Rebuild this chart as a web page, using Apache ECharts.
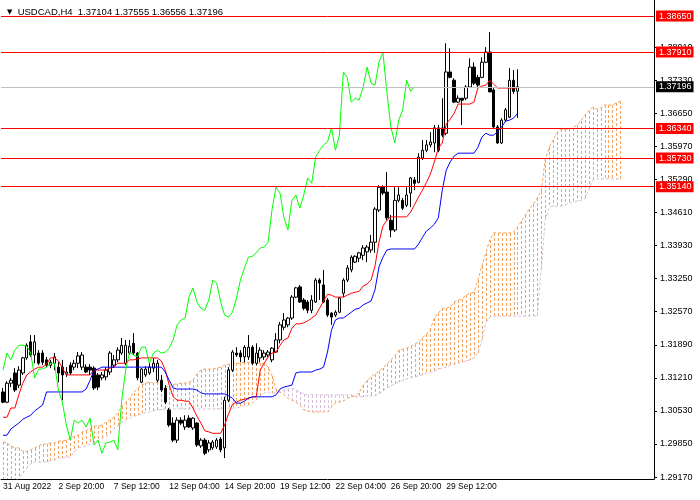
<!DOCTYPE html>
<html>
<head>
<meta charset="utf-8">
<script src="https://cdn.jsdelivr.net/npm/echarts@6/dist/echarts.min.js"></script>
<style>
  html, body { margin: 0; padding: 0; background: #fff; }
  #chart { width: 700px; height: 500px; }
</style>
</head>
<body>
<div id="chart"></div>
<script>
// bottom axis: one label every 14 bars
const xTickLabels = ['31 Aug 2022', '2 Sep 20:00', '7 Sep 12:00', '12 Sep 04:00', '14 Sep 20:00',
  '19 Sep 12:00', '22 Sep 04:00', '26 Sep 20:00', '29 Sep 12:00'];
const labelStep = 14;
const barSlots = 165;

// right axis ticks
const yTicks = [1.2917, 1.2985, 1.3053, 1.3121, 1.3189, 1.3257, 1.3325, 1.3393,
  1.3461, 1.3529, 1.3597, 1.3665, 1.3733, 1.3801];

// horizontal levels and current price
const levels = [1.3865, 1.3791, 1.3634, 1.3573, 1.3514];
const lastPrice = 1.37196;

// H4 candles
const opens = [
  1.3092,1.3071,1.3110,1.3131,1.3106,1.3131,1.3162,1.3195,1.3168,1.3172,
  1.3172,1.3158,1.3147,1.3151,1.3143,1.3143,1.3129,1.3147,1.3143,1.3151,
  1.3143,1.3143,1.3143,1.3141,1.3127,1.3121,1.3123,1.3133,1.3147,1.3158,
  1.3172,1.3151,1.3172,1.3192,1.3172,1.3112,1.3127,1.3131,1.3141,1.3116,
  1.3116,1.3100,1.3055,1.3028,1.2993,1.3034,1.3020,1.3038,1.3018,1.3028,
  1.2981,1.2993,1.2973,1.2977,1.2979,1.2995,1.2977,1.3075,1.3137,1.3172,
  1.3172,1.3164,1.3164,1.3184,1.3151,1.3162,1.3164,1.3168,1.3158,1.3174,
  1.3199,1.3225,1.3230,1.3244,1.3287,1.3308,1.3281,1.3277,1.3260,1.3277,
  1.3322,1.3312,1.3281,1.3254,1.3250,1.3256,1.3295,1.3322,1.3343,1.3359,
  1.3367,1.3373,1.3380,1.3384,1.3400,1.3466,1.3513,1.3503,1.3445,1.3425,
  1.3486,1.3486,1.3476,1.3501,1.3528,1.3523,1.3573,1.3589,1.3600,1.3604,
  1.3635,1.3635,1.3624,1.3750,1.3733,1.3688,1.3696,1.3696,1.3719,1.3760,
  1.3739,1.3739,1.3770,1.3791,1.3713,1.3637,1.3604,1.3651,1.3657,1.3733,
  1.37104];
const closes = [
  1.3071,1.3110,1.3116,1.3096,1.3137,1.3162,1.3188,1.3168,1.3195,1.3151,
  1.3153,1.3147,1.3153,1.3164,1.3131,1.3127,1.3133,1.3131,1.3151,1.3166,
  1.3168,1.3133,1.3137,1.3100,1.3102,1.3127,1.3137,1.3172,1.3158,1.3178,
  1.3188,1.3188,1.3186,1.3172,1.3121,1.3139,1.3139,1.3143,1.3151,1.3151,
  1.3096,1.3071,1.3024,1.2993,1.3034,1.3028,1.3034,1.3020,1.3038,1.2983,
  1.2993,1.2966,1.2987,1.2989,1.2993,1.2973,1.3075,1.3137,1.3174,1.3168,
  1.3164,1.3184,1.3184,1.3151,1.3172,1.3178,1.3172,1.3174,1.3182,1.3199,
  1.3230,1.3240,1.3244,1.3287,1.3306,1.3277,1.3264,1.3260,1.3281,1.3322,
  1.3316,1.3277,1.3250,1.3246,1.3256,1.3285,1.3322,1.3347,1.3369,1.3371,
  1.3378,1.3388,1.3390,1.3400,1.3468,1.3513,1.3501,1.3450,1.3425,1.3486,
  1.3497,1.3470,1.3497,1.3532,1.3521,1.3575,1.3589,1.3600,1.3606,1.3635,
  1.3589,1.3620,1.3750,1.3739,1.3688,1.3696,1.3692,1.3719,1.3760,1.3727,
  1.3723,1.3770,1.3791,1.3709,1.3637,1.3604,1.3651,1.3672,1.3733,1.3710,
  1.37196];
const lows = [
  1.3069,1.3069,1.3102,1.3092,1.3100,1.3127,1.3158,1.3164,1.3151,1.3147,
  1.3147,1.3143,1.3141,1.3137,1.3112,1.3075,1.3123,1.3127,1.3137,1.3141,
  1.3137,1.3131,1.3127,1.3096,1.3096,1.3116,1.3116,1.3127,1.3141,1.3153,
  1.3168,1.3147,1.3168,1.3168,1.3116,1.3110,1.3123,1.3127,1.3133,1.3112,
  1.3092,1.3067,1.3020,1.2989,1.2987,1.3024,1.3014,1.3018,1.3014,1.2979,
  1.2977,1.2962,1.2968,1.2973,1.2975,1.2968,1.2956,1.3071,1.3133,1.3164,
  1.3153,1.3153,1.3158,1.3147,1.3147,1.3153,1.3158,1.3164,1.3153,1.3172,
  1.3192,1.3219,1.3225,1.3240,1.3285,1.3275,1.3260,1.3254,1.3254,1.3275,
  1.3281,1.3275,1.3246,1.3230,1.3246,1.3254,1.3287,1.3318,1.3338,1.3357,
  1.3359,1.3363,1.3359,1.3378,1.3378,1.3462,1.3497,1.3445,1.3410,1.3421,
  1.3482,1.3466,1.3472,1.3472,1.3507,1.3521,1.3569,1.3585,1.3595,1.3585,
  1.3585,1.3616,1.3620,1.3737,1.3686,1.3686,1.3641,1.3692,1.3717,1.3723,
  1.3719,1.3737,1.3768,1.3709,1.3635,1.3602,1.3602,1.3647,1.3655,1.3705,
  1.36556];
const highs = [
  1.3100,1.3114,1.3121,1.3141,1.3145,1.3164,1.3192,1.3209,1.3209,1.3178,
  1.3178,1.3164,1.3158,1.3172,1.3153,1.3158,1.3143,1.3153,1.3158,1.3174,
  1.3174,1.3149,1.3149,1.3145,1.3131,1.3133,1.3143,1.3176,1.3168,1.3184,
  1.3203,1.3199,1.3199,1.3213,1.3174,1.3141,1.3145,1.3153,1.3162,1.3158,
  1.3127,1.3106,1.3059,1.3040,1.3040,1.3040,1.3044,1.3044,1.3040,1.3030,
  1.2997,1.2997,1.2993,1.2993,1.2997,1.2999,1.3082,1.3143,1.3178,1.3184,
  1.3178,1.3188,1.3209,1.3188,1.3192,1.3184,1.3178,1.3178,1.3184,1.3213,
  1.3236,1.3254,1.3246,1.3291,1.3308,1.3312,1.3285,1.3281,1.3291,1.3326,
  1.3326,1.3343,1.3285,1.3256,1.3260,1.3287,1.3326,1.3353,1.3373,1.3373,
  1.3380,1.3394,1.3394,1.3415,1.3472,1.3517,1.3517,1.3544,1.3456,1.3513,
  1.3513,1.3491,1.3513,1.3534,1.3534,1.3583,1.3610,1.3610,1.3626,1.3641,
  1.3641,1.3696,1.3809,1.3799,1.3737,1.3702,1.3696,1.3723,1.3778,1.3770,
  1.3744,1.3780,1.3801,1.3832,1.3717,1.3641,1.3655,1.3676,1.3758,1.3754,
  1.37555];

// Ichimoku lines
const tenkan = [
  1.3040,1.3040,1.3059,1.3059,1.3086,1.3110,1.3127,1.3133,1.3139,1.3143,
  1.3143,1.3149,1.3162,1.3162,1.3156,1.3141,1.3127,1.3127,1.3127,1.3127,
  1.3127,1.3127,1.3127,1.3137,1.3137,1.3137,1.3137,1.3141,1.3143,1.3151,
  1.3151,1.3151,1.3158,1.3158,1.3160,1.3162,1.3162,1.3162,1.3162,1.3162,
  1.3156,1.3137,1.3106,1.3082,1.3075,1.3075,1.3073,1.3073,1.3059,1.3042,
  1.3028,1.3012,1.3010,1.3007,1.3007,1.3007,1.3024,1.3047,1.3067,1.3071,
  1.3075,1.3077,1.3079,1.3082,1.3082,1.3137,1.3151,1.3164,1.3172,1.3174,
  1.3188,1.3199,1.3203,1.3223,1.3232,1.3232,1.3234,1.3238,1.3244,1.3250,
  1.3264,1.3279,1.3293,1.3291,1.3287,1.3287,1.3287,1.3291,1.3295,1.3297,
  1.3299,1.3310,1.3314,1.3322,1.3351,1.3400,1.3433,1.3445,1.3452,1.3452,
  1.3452,1.3452,1.3452,1.3462,1.3477,1.3493,1.3507,1.3523,1.3540,1.3565,
  1.3593,1.3604,1.3643,1.3653,1.3665,1.3684,1.3684,1.3684,1.3684,1.3688,
  1.3717,1.3721,1.3723,1.3733,1.3725,1.3717,1.3717,1.3717,1.3717,1.3717,
  1.3717];
const kijun = [
  1.3003,1.3003,1.3016,1.3022,1.3028,1.3036,1.3040,1.3044,1.3053,1.3059,
  1.3065,1.3092,1.3092,1.3092,1.3092,1.3092,1.3092,1.3092,1.3092,1.3092,
  1.3092,1.3098,1.3116,1.3137,1.3139,1.3143,1.3143,1.3143,1.3143,1.3143,
  1.3143,1.3143,1.3143,1.3143,1.3143,1.3143,1.3143,1.3143,1.3143,1.3143,
  1.3143,1.3133,1.3116,1.3100,1.3098,1.3098,1.3098,1.3098,1.3098,1.3096,
  1.3090,1.3088,1.3088,1.3088,1.3088,1.3088,1.3088,1.3084,1.3079,1.3069,
  1.3069,1.3073,1.3079,1.3082,1.3082,1.3082,1.3082,1.3082,1.3082,1.3086,
  1.3098,1.3102,1.3104,1.3106,1.3131,1.3133,1.3133,1.3133,1.3133,1.3137,
  1.3139,1.3143,1.3174,1.3219,1.3240,1.3244,1.3244,1.3250,1.3256,1.3262,
  1.3264,1.3271,1.3275,1.3279,1.3302,1.3349,1.3369,1.3384,1.3386,1.3386,
  1.3386,1.3386,1.3386,1.3386,1.3386,1.3396,1.3410,1.3423,1.3429,1.3437,
  1.3450,1.3507,1.3548,1.3565,1.3577,1.3583,1.3583,1.3583,1.3583,1.3583,
  1.3595,1.3616,1.3624,1.3620,1.3620,1.3628,1.3637,1.3649,1.3651,1.3655,
  1.3665];
const spanA = [
  1.2989,1.2987,1.2981,1.2977,1.2977,1.2970,1.2970,1.2973,1.2977,1.2981,
  1.2985,1.2985,1.2987,1.2987,1.2991,1.2991,1.2993,1.2997,1.3001,1.3003,
  1.3010,1.3012,1.3016,1.3022,1.3022,1.3024,1.3030,1.3034,1.3040,1.3049,
  1.3063,1.3071,1.3079,1.3090,1.3100,1.3106,1.3110,1.3112,1.3110,1.3112,
  1.3108,1.3104,1.3102,1.3108,1.3108,1.3110,1.3110,1.3112,1.3116,1.3129,
  1.3137,1.3139,1.3139,1.3139,1.3141,1.3143,1.3147,1.3149,1.3149,1.3151,
  1.3151,1.3153,1.3153,1.3153,1.3151,1.3151,1.3151,1.3143,1.3125,1.3098,
  1.3092,1.3086,1.3079,1.3075,1.3071,1.3065,1.3055,1.3053,1.3051,1.3051,
  1.3051,1.3051,1.3051,1.3061,1.3069,1.3071,1.3073,1.3079,1.3082,1.3084,
  1.3090,1.3106,1.3116,1.3123,1.3129,1.3135,1.3141,1.3149,1.3158,1.3166,
  1.3178,1.3180,1.3182,1.3186,1.3190,1.3195,1.3203,1.3211,1.3221,1.3244,
  1.3254,1.3264,1.3264,1.3267,1.3277,1.3281,1.3283,1.3291,1.3295,1.3297,
  1.3322,1.3351,1.3378,1.3405,1.3419,1.3419,1.3419,1.3419,1.3419,1.3421,
  1.3431,1.3443,1.3456,1.3468,1.3478,1.3491,1.3505,1.3569,1.3595,1.3610,
  1.3626,1.3632,1.3632,1.3632,1.3635,1.3641,1.3649,1.3661,1.3670,1.3678,
  1.3674,1.3676,1.3682,1.3682,1.3682,1.3686,1.3690];
const spanB = [
  1.2901,1.2901,1.2901,1.2907,1.2915,1.2925,1.2936,1.2944,1.2948,1.2948,
  1.2948,1.2948,1.2950,1.2952,1.2956,1.2956,1.2958,1.2958,1.2968,1.2977,
  1.2979,1.2981,1.2985,1.2989,1.2991,1.2997,1.3001,1.3005,1.3016,1.3022,
  1.3030,1.3034,1.3038,1.3042,1.3044,1.3047,1.3049,1.3051,1.3053,1.3055,
  1.3055,1.3057,1.3057,1.3057,1.3057,1.3057,1.3057,1.3057,1.3057,1.3057,
  1.3057,1.3057,1.3057,1.3057,1.3057,1.3057,1.3057,1.3059,1.3059,1.3059,
  1.3061,1.3063,1.3065,1.3069,1.3075,1.3084,1.3090,1.3092,1.3090,1.3090,
  1.3092,1.3096,1.3098,1.3100,1.3096,1.3092,1.3088,1.3086,1.3086,1.3086,
  1.3086,1.3086,1.3086,1.3086,1.3086,1.3086,1.3086,1.3086,1.3086,1.3082,
  1.3082,1.3082,1.3084,1.3084,1.3084,1.3088,1.3094,1.3100,1.3104,1.3108,
  1.3112,1.3116,1.3119,1.3121,1.3123,1.3125,1.3127,1.3131,1.3133,1.3135,
  1.3139,1.3141,1.3143,1.3147,1.3149,1.3151,1.3153,1.3155,1.3158,1.3162,
  1.3172,1.3199,1.3234,1.3246,1.3248,1.3248,1.3248,1.3248,1.3248,1.3248,
  1.3248,1.3248,1.3248,1.3248,1.3248,1.3248,1.3343,1.3445,1.3472,1.3474,
  1.3474,1.3474,1.3476,1.3480,1.3482,1.3484,1.3486,1.3489,1.3507,1.3528,
  1.3530,1.3530,1.3530,1.3530,1.3530,1.3530,1.3530];

// chikou span is the close plotted 26 bars back
const chikou = closes.slice(26);

const categories = [];
for (let i = 0; i < barSlots; i++) categories.push(String(i));
const candles = opens.map((o, i) => [o, closes[i], lows[i], highs[i]]);
const cloud = spanA.map((a, i) => [i, a, spanB[i]]);

const showLabel = function (i) { return i % labelStep === 0 && i / labelStep < xTickLabels.length; };
const font = 'Liberation Sans';

const chart = echarts.init(document.getElementById('chart'));

const levelLines = levels.map(v => ({
  yAxis: v,
  lineStyle: { color: '#ff0000', width: 1, type: 'solid' },
  label: { backgroundColor: '#ff0000' }
}));
levelLines.push({
  yAxis: lastPrice,
  lineStyle: { color: '#c0c0c0', width: 1, type: 'solid' },
  label: { backgroundColor: '#000000' }
});

// dotted histogram column between the two spans
function cloudColumn(params, api) {
  const a = api.value(1);
  const b = api.value(2);
  const p1 = api.coord([api.value(0), a]);
  const p2 = api.coord([api.value(0), b]);
  const x = Math.round(p1[0]);
  const top = Math.round(Math.min(p1[1], p2[1]));
  const bottom = Math.round(Math.max(p1[1], p2[1]));
  const colour = a >= b ? '#f4a460' : '#d8bfd8';
  const dashes = [];
  for (let y = top; y < bottom; y += 5) {
    dashes.push({
      type: 'rect',
      shape: { x: x, y: y, width: 1, height: Math.min(3, bottom - y) },
      style: { fill: colour }
    });
  }
  return { type: 'group', children: dashes };
}

chart.setOption({
  animation: false,
  backgroundColor: '#ffffff',
  title: {
    text: '{t|▼}  USDCAD,H4  1.37104 1.37555 1.36556 1.37196',
    left: 2,
    top: 2,
    textStyle: {
      fontFamily: font, fontSize: 9.5, fontWeight: 'normal', color: '#000',
      rich: { t: { fontFamily: 'DejaVu Sans', fontSize: 7, color: '#000' } }
    }
  },
  grid: { left: 0, right: 46, top: 0, bottom: 21 },
  xAxis: {
    type: 'category',
    data: categories,
    boundaryGap: true,
    axisLine: { lineStyle: { color: '#000', width: 1 } },
    axisTick: { alignWithLabel: true, interval: showLabel, length: 5, lineStyle: { color: '#000' } },
    axisLabel: {
      interval: showLabel,
      formatter: (v, i) => xTickLabels[i / labelStep],
      align: 'left',
      margin: 3,
      color: '#000',
      fontFamily: font,
      fontSize: 8.5
    },
    splitLine: { show: false }
  },
  yAxis: {
    type: 'value',
    position: 'right',
    min: 1.2913,
    max: 1.3898,
    axisLine: { show: true, lineStyle: { color: '#000', width: 1 } },
    axisTick: { show: true, customValues: yTicks, length: 3, lineStyle: { color: '#000' } },
    axisLabel: {
      customValues: yTicks,
      formatter: v => v.toFixed(5),
      margin: 6,
      color: '#000',
      fontFamily: font,
      fontSize: 9
    },
    splitLine: { show: false }
  },
  series: [
    {
      name: 'Cloud',
      type: 'custom',
      z: 1,
      clip: true,
      data: cloud,
      encode: { x: 0, y: [1, 2] },
      renderItem: cloudColumn
    },
    {
      name: 'Senkou Span A',
      type: 'line',
      z: 2,
      data: spanA,
      symbol: 'none',
      lineStyle: { color: '#f4a460', width: 1, type: [3, 2] }
    },
    {
      name: 'Senkou Span B',
      type: 'line',
      z: 2,
      data: spanB,
      symbol: 'none',
      lineStyle: { color: '#d8bfd8', width: 1, type: [3, 2] }
    },
    {
      name: 'USDCAD',
      type: 'candlestick',
      z: 3,
      data: candles,
      barWidth: 3,
      itemStyle: {
        color: '#ffffff',
        color0: '#000000',
        borderColor: '#000000',
        borderColor0: '#000000',
        borderWidth: 1
      }
    },
    {
      name: 'Tenkan-sen',
      type: 'line',
      z: 4,
      data: tenkan,
      symbol: 'none',
      lineStyle: { color: '#ff0000', width: 1 }
    },
    {
      name: 'Kijun-sen',
      type: 'line',
      z: 4,
      data: kijun,
      symbol: 'none',
      lineStyle: { color: '#0000ff', width: 1 }
    },
    {
      name: 'Chikou Span',
      type: 'line',
      z: 4,
      data: chikou,
      symbol: 'none',
      lineStyle: { color: '#00ff00', width: 1 },
      markLine: {
        silent: true,
        precision: 5,
        symbol: ['none', 'none'],
        label: {
          show: true,
          position: 'end',
          distance: 2,
          formatter: p => Number(p.value).toFixed(5),
          color: '#ffffff',
          fontFamily: font,
          fontSize: 9,
          lineHeight: 10,
          padding: [1, 2, 0, 3]
        },
        emphasis: { disabled: true },
        data: levelLines
      }
    }
  ]
});

window.addEventListener('resize', function () {
  chart.resize();
});
</script>
</body>
</html>
